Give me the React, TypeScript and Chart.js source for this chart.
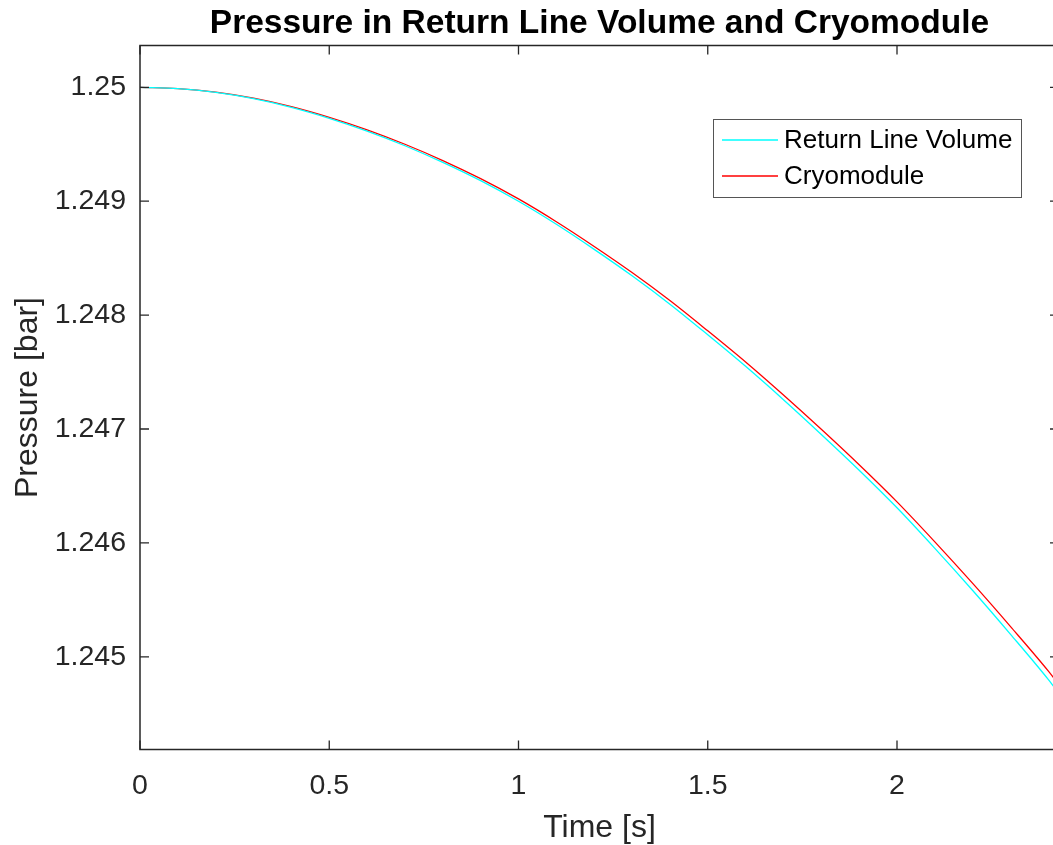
import React, { useEffect, useRef } from "react";
import { Chart, registerables } from "chart.js";

Chart.register(...registerables);

// Simulated time axis [s]
const timeS = [
  0, 0.1, 0.2, 0.3, 0.4, 0.5, 0.6, 0.7, 0.8, 0.9, 1.0, 1.1, 1.2, 1.3, 1.4,
  1.5, 1.6, 1.7, 1.8, 1.9, 2.0, 2.1, 2.2, 2.3, 2.4, 2.43,
];

// Pressure in the return line volume [bar]
const returnLine = [
  1.25, 1.249988, 1.249955, 1.2499, 1.249824, 1.249728, 1.249616, 1.249487,
  1.249341, 1.24918, 1.248999, 1.248797, 1.248577, 1.248345, 1.248096,
  1.247827, 1.24755, 1.247257, 1.246952, 1.246638, 1.246308, 1.245952,
  1.245582, 1.245197, 1.244799, 1.244667,
];

// Pressure in the cryomodule [bar]
const cryomodule = [
  1.25, 1.249989, 1.249958, 1.249905, 1.249831, 1.249737, 1.249627, 1.2495,
  1.249357, 1.249198, 1.24902, 1.24882, 1.248603, 1.248374, 1.248128,
  1.247862, 1.247588, 1.247298, 1.246997, 1.246686, 1.24636, 1.246009,
  1.245644, 1.245265, 1.244874, 1.244745,
];

const xTicks = [0, 0.5, 1, 1.5, 2];
const yTicks = [1.245, 1.246, 1.247, 1.248, 1.249, 1.25];

const seriesNames = ["Return Line Volume", "Cryomodule"];
const seriesColors = ["#00FFFF", "#FF0000"];

const titleText = "Pressure in Return Line Volume and Cryomodule";
const xTitle = "Time [s]";
const yTitle = "Pressure [bar]";

const X_MIN = 0;
const X_MAX = 2.428;
const Y_MIN = 1.244186;
const Y_MAX = 1.250367;

const FONT = "'Liberation Sans', Arial, Helvetica, sans-serif";
const AXIS_COLOR = "#262626";

const fmt = (v: number) => String(Number(v.toFixed(4)));

const framePlugin = {
  id: "matlabFrame",
  afterDatasetsDraw(chart: any) {
    const { ctx, chartArea } = chart;
    const { left, right, top, bottom } = chartArea;
    const xs = chart.scales.x;
    const ys = chart.scales.y;
    ctx.save();

    // axes box
    ctx.strokeStyle = AXIS_COLOR;
    ctx.lineWidth = 1.5;
    ctx.strokeRect(left, top, right - left, bottom - top);

    // inward tick marks on all four sides
    const tl = 9;
    ctx.lineWidth = 1.3;
    ctx.beginPath();
    xTicks.forEach((v) => {
      const px = xs.getPixelForValue(v);
      ctx.moveTo(px, bottom);
      ctx.lineTo(px, bottom - tl);
      ctx.moveTo(px, top);
      ctx.lineTo(px, top + tl);
    });
    yTicks.forEach((v) => {
      const py = ys.getPixelForValue(v);
      ctx.moveTo(left, py);
      ctx.lineTo(left + tl, py);
      ctx.moveTo(right, py);
      ctx.lineTo(right - tl, py);
    });
    ctx.stroke();

    // title
    ctx.fillStyle = "#000000";
    ctx.font = `bold 33.5px ${FONT}`;
    ctx.textAlign = "center";
    ctx.textBaseline = "alphabetic";
    ctx.fillText(titleText, (left + right) / 2, 33);

    // axis titles
    ctx.fillStyle = AXIS_COLOR;
    ctx.font = `32px ${FONT}`;
    ctx.fillText(xTitle, (left + right) / 2, 837);
    ctx.save();
    ctx.translate(37, (top + bottom) / 2);
    ctx.rotate(-Math.PI / 2);
    ctx.fillText(yTitle, 0, 0);
    ctx.restore();

    // legend box
    const lx = 713.5;
    const ly = 119.5;
    const lw = 308;
    const lh = 78;
    ctx.fillStyle = "#ffffff";
    ctx.fillRect(lx, ly, lw, lh);
    ctx.strokeStyle = "#555555";
    ctx.lineWidth = 1;
    ctx.strokeRect(lx, ly, lw, lh);
    ctx.font = `26px ${FONT}`;
    ctx.textAlign = "left";
    ctx.textBaseline = "middle";
    seriesNames.forEach((name, i) => {
      const yy = 140 + i * 36;
      ctx.strokeStyle = seriesColors[i];
      ctx.lineWidth = 1.3;
      ctx.beginPath();
      ctx.moveTo(722, yy);
      ctx.lineTo(778, yy);
      ctx.stroke();
      ctx.fillStyle = "#000000";
      ctx.fillText(name, 784, yy + 1);
    });

    ctx.restore();
  },
};

export default function App() {
  const canvasRef = useRef<HTMLCanvasElement | null>(null);

  useEffect(() => {
    const canvas = canvasRef.current;
    if (!canvas) return;
    const series = [returnLine, cryomodule];
    const chart = new Chart(canvas, {
      type: "line",
      data: {
        datasets: series.map((vals, i) => ({
          label: seriesNames[i],
          data: timeS.map((t, j) => ({ x: t, y: vals[j] })),
          borderColor: seriesColors[i],
          backgroundColor: seriesColors[i],
          borderWidth: 1.3,
          pointRadius: 0,
          cubicInterpolationMode: "monotone" as const,
          fill: false,
        })),
      },
      options: {
        animation: false,
        responsive: false,
        devicePixelRatio: 1,
        events: [],
        layout: { padding: { top: 45.5, right: 11, left: 0, bottom: 0 } },
        plugins: {
          legend: { display: false },
          title: { display: false },
          tooltip: { enabled: false },
        },
        scales: {
          x: {
            type: "linear",
            min: X_MIN,
            max: X_MAX,
            grid: { display: false, drawTicks: false },
            border: { display: false },
            afterBuildTicks: (s: any) => {
              s.ticks = xTicks.map((v) => ({ value: v }));
            },
            afterFit: (s: any) => {
              s.height = 95.5;
            },
            ticks: {
              autoSkip: false,
              maxRotation: 0,
              padding: 20,
              color: AXIS_COLOR,
              font: { family: FONT, size: 28.5 },
              callback: (v: any) => fmt(Number(v)),
            },
          },
          y: {
            type: "linear",
            min: Y_MIN,
            max: Y_MAX,
            grid: { display: false, drawTicks: false },
            border: { display: false },
            afterBuildTicks: (s: any) => {
              s.ticks = yTicks.map((v) => ({ value: v }));
            },
            afterFit: (s: any) => {
              s.width = 140;
            },
            ticks: {
              autoSkip: false,
              padding: 14,
              color: AXIS_COLOR,
              font: { family: FONT, size: 28.5 },
              callback: (v: any) => fmt(Number(v)),
            },
          },
        },
      },
      plugins: [framePlugin],
    });
    return () => chart.destroy();
  }, []);

  return (
    <div
      style={{
        position: "fixed",
        left: 0,
        top: 0,
        width: 1053,
        height: 845,
        overflow: "hidden",
        background: "#ffffff",
      }}
    >
      <canvas
        ref={canvasRef}
        width={1070}
        height={845}
        style={{ display: "block", width: 1070, height: 845 }}
      />
    </div>
  );
}
